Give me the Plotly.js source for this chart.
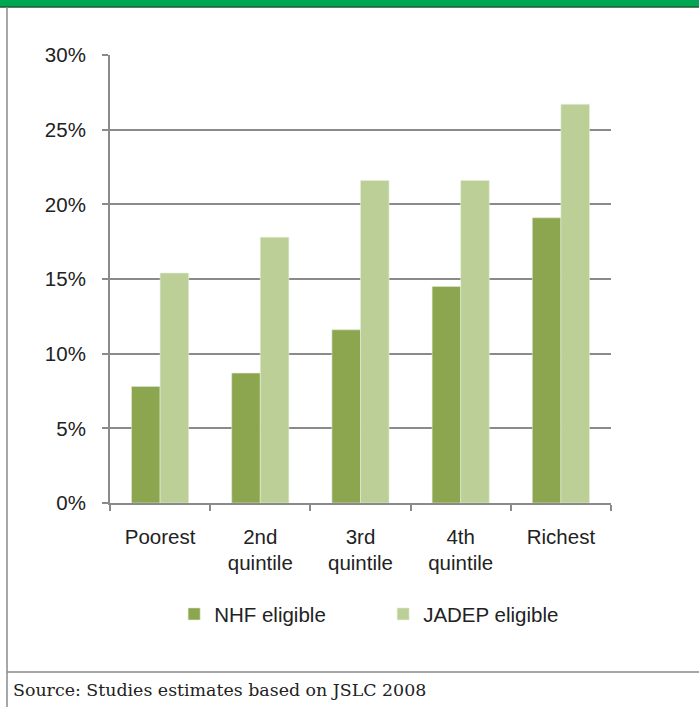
<!DOCTYPE html>
<html>
<head>
<meta charset="utf-8">
<script src="https://cdn.plot.ly/plotly-3.0.1.min.js"></script>
<style>
  html, body { margin: 0; padding: 0; background: #ffffff; }
  #chart { width: 699px; height: 707px; }
</style>
</head>
<body>
<div id="chart"></div>
<script>
// Income quintiles
var quintiles = ['Poorest', '2nd<br>quintile', '3rd<br>quintile', '4th<br>quintile', 'Richest'];
// Share of each quintile eligible for each programme (%)
var nhfEligible = [7.8, 8.7, 11.6, 14.5, 19.1];
var jadepEligible = [15.4, 17.8, 21.6, 21.6, 26.7];
var yTicks = [0, 5, 10, 15, 20, 25, 30];
var yTickText = ['0%', '5%', '10%', '15%', '20%', '25%', '30%'];

var axisGrey = '#8a8a8a';
var labelFont = { family: 'Liberation Sans, Arial, sans-serif', size: 20.5, color: '#222222' };

var traces = [
  {
    type: 'bar', name: 'NHF eligible', x: quintiles, y: nhfEligible,
    marker: { color: '#8ba64f', line: { color: '#dfe8cf', width: 0.6 } },
    hoverinfo: 'none'
  },
  {
    type: 'bar', name: 'JADEP eligible', x: quintiles, y: jadepEligible,
    marker: { color: '#bbcf97', line: { color: '#e6eedb', width: 0.6 } },
    hoverinfo: 'none'
  }
];

var layout = {
  width: 699, height: 707,
  margin: { l: 110, r: 88, t: 55, b: 204 },
  paper_bgcolor: '#ffffff', plot_bgcolor: '#ffffff',
  barmode: 'group', bargap: 0.43, bargroupgap: 0,
  showlegend: true,
  font: labelFont,
  xaxis: {
    type: 'category',
    showline: true, linecolor: axisGrey, linewidth: 2,
    ticks: 'outside', tickson: 'boundaries', ticklen: 6, tickcolor: axisGrey, tickwidth: 2,
    tickfont: labelFont, ticklabelstandoff: 14,
    showgrid: false, zeroline: false, fixedrange: true
  },
  yaxis: {
    range: [0, 30],
    tickvals: yTicks, ticktext: yTickText,
    showline: true, linecolor: axisGrey, linewidth: 2,
    ticks: 'outside', ticklen: 6, tickcolor: axisGrey, tickwidth: 2,
    tickfont: labelFont, ticklabelstandoff: 12,
    showgrid: true, gridcolor: axisGrey, gridwidth: 2,
    zeroline: false, fixedrange: true
  },
  legend: {
    orientation: 'h',
    x: 0.128, xanchor: 'left',
    y: -0.248, yanchor: 'middle',
    font: labelFont,
    entrywidth: 164, entrywidthmode: 'pixels',
    bgcolor: 'rgba(0,0,0,0)'
  },
  shapes: [
    // green band across the top
    { type: 'rect', xref: 'paper', yref: 'paper', x0: -1, x1: 2, y0: 1 + 48 / 448, y1: 1 + 56 / 448,
      fillcolor: '#00a651', line: { width: 0 } },
    { type: 'line', xref: 'paper', yref: 'paper', x0: -1, x1: 2, y0: 1 + 48 / 448, y1: 1 + 48 / 448,
      line: { color: '#1d5a30', width: 1.5 } },
    // left frame line
    { type: 'line', xref: 'paper', yref: 'paper', x0: -103 / 501, x1: -103 / 501, y0: -1, y1: 1 + 48 / 448,
      line: { color: '#8a8a8a', width: 1.5 } },
    // divider above the source line
    { type: 'line', xref: 'paper', yref: 'paper', x0: -103 / 501, x1: 2, y0: -169 / 448, y1: -169 / 448,
      line: { color: '#8a8a8a', width: 1.5 } }
  ],
  annotations: [
    { text: 'Source: Studies estimates based on JSLC 2008',
      xref: 'paper', yref: 'paper', x: -99 / 501, y: -187 / 448,
      xanchor: 'left', yanchor: 'middle', showarrow: false,
      font: { family: 'DejaVu Serif, Liberation Serif, serif', size: 17.4, color: '#222222' } }
  ]
};

Plotly.newPlot('chart', traces, layout, { displayModeBar: false, staticPlot: true });
</script>
</body>
</html>
